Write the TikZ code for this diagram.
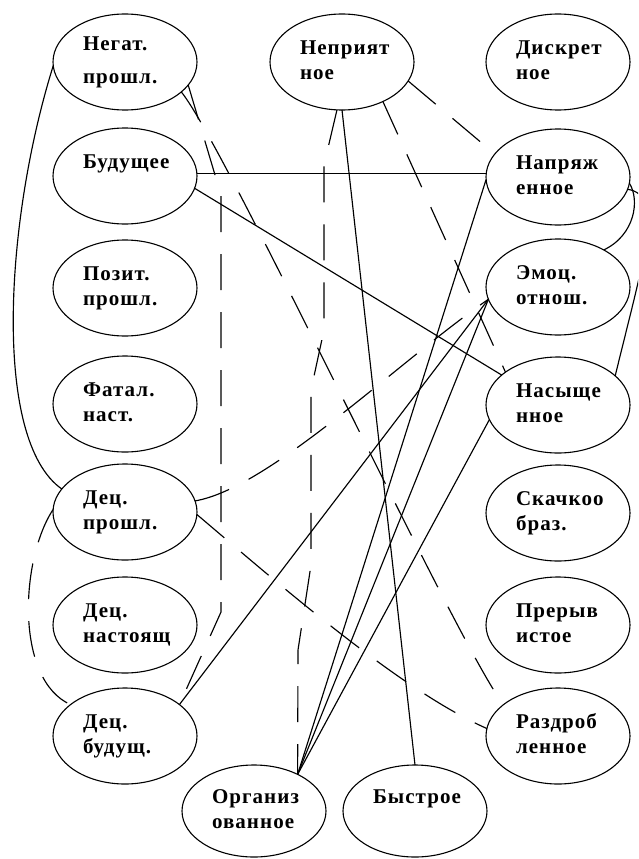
\documentclass[tikz,border=0pt]{standalone}
\usepackage{fontspec}
\setmainfont{Liberation Serif}[LetterSpace=5]
\usetikzlibrary{shapes.geometric}
\begin{document}
\begin{tikzpicture}[x=1pt,y=-1pt,
  el/.style={ellipse,draw,line width=1.1pt,minimum width=144pt,minimum height=96pt,
    inner sep=0pt,outer sep=0pt,text width=84pt,align=left,
    font=\fontsize{21}{25}\selectfont\bfseries},
  elb/.style={el,minimum height=92pt},
  sl/.style={line width=1.15pt},
  dl/.style={line width=1.15pt,dash pattern=on 36pt off 22pt}]
\clip (0,0) rectangle (638,859);
\fill[white] (0,0) rectangle (638,859);
% left column
\node[el] (neg) at (125,62) {\strut Негат.\\[8pt]\strut прошл.};
\node[el] (bud) at (125,176) {\strut Будущее\\\strut};
\node[el] (poz) at (125,288) {\strut Позит.\\\strut прошл.};
\node[el] (fat) at (125,404) {\strut Фатал.\\\strut наст.};
\node[el] (decp) at (125,512) {\strut Дец.\\\strut прошл.};
\node[el] (decn) at (125,625) {\strut Дец.\\\strut настоящ};
\node[el] (decb) at (125,736) {\strut Дец.\\\strut будущ.};
% middle
\node[el] (nep) at (342,62) {\strut Неприят\\\strut ное};
\node[elb] (org) at (254,811) {\strut Организ\\\strut ованное};
\node[elb] (bys) at (415,811) {\strut Быстрое\\\strut};
% right column
\node[el] (dis) at (558,62) {\strut Дискрет\\\strut ное};
\node[el] (nap) at (558,177) {\strut Напряж\\\strut енное};
\node[el] (emo) at (558,287) {\strut Эмоц.\\\strut отнош.};
\node[el] (nas) at (558,405) {\strut Насыще\\\strut нное};
\node[el] (ska) at (558,513) {\strut Скачкоо\\\strut браз.};
\node[el] (pre) at (558,625) {\strut Прерыв\\\strut истое};
\node[el] (raz) at (558,736) {\strut Раздроб\\\strut ленное};
% connectors
\draw[sl] (neg.183) .. controls (5,220) and (-8,440) .. (decp.160);
\draw[dl] (decp.178) .. controls (20,560) and (15,680) .. (decb.150);
\draw[sl] ([yshift=2.5pt]bud.east) -- ([yshift=3.5pt]nap.west);
\draw[sl] (bud.-10) -- (nas.152);
\draw[dl] (neg.-20) -- (221,195) -- (221,612) -- (decb.30);
\draw[dl] (neg.-28) .. controls (225,145) and (460,650) .. (raz.150);
\draw[dl] (nep.-16) -- (nap.160);
\draw[dl] (nep.-44) -- (nas.148);
\draw[sl] (nep.south) -- (bys.north);
\draw[dl] (nep.-96) -- (324,165) -- (324,330) -- (311,390) -- (311,565) -- (298,650) -- (org.40);
\draw[sl] (nap.-5) .. controls (640,200) and (635,235) .. (emo.39);
\draw[sl] (nap.-10) .. controls (665,195) and (644,257) .. (nas.27);
\draw[dl] (decp.9) .. controls (270,488) and (400,360) .. (emo.190);
\draw[dl] (decp.-2) .. controls (280,585) and (400,690) .. (raz.174);
\draw[sl] (decb.30) -- (emo.190);
\draw[sl] (org.40) -- (nap.182);
\draw[sl] (org.40) -- (emo.190);
\draw[sl] (org.40) -- (nas.192);
\end{tikzpicture}
\end{document}
